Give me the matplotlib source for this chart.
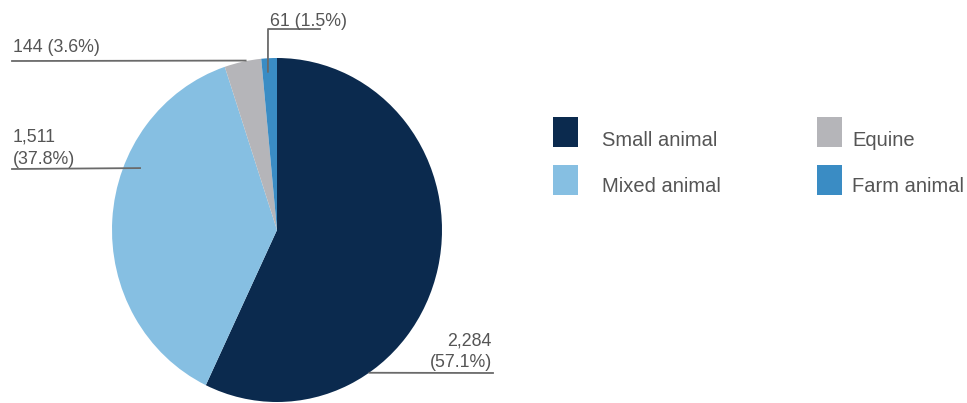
import matplotlib.pyplot as plt
from matplotlib.patches import Rectangle

categories = ["Small animal", "Mixed animal", "Equine", "Farm animal"]
counts = [2284, 1511, 144, 61]
shares = [57.1, 37.8, 3.6, 1.5]
colors = ["#0b2a4e", "#86bfe2", "#b5b5b9", "#3a8cc4"]

W, H = 967, 403
TEXT = "#555555"
LINE = "#6a6a6a"
FONT = ["Liberation Sans", "DejaVu Sans"]


def px(x, y):
    # pixel position measured from the top-left corner -> figure fraction
    return x / W, 1 - y / H


fig = plt.figure(figsize=(W / 100, H / 100), dpi=100)
ax = fig.add_axes([112 / W, 1 / H, 330 / W, 344 / H])
wedges, _ = ax.pie(counts, colors=colors, startangle=90, counterclock=False,
                   wedgeprops=dict(linewidth=0))
ax.set_aspect("auto")
ax.set_xlim(-1, 1)
ax.set_ylim(-1, 1)


def anchor(x, y):
    # data point on the pie -> figure fraction
    d = ax.transData.transform((x, y))
    return fig.transFigure.inverted().transform(d)


def leader(points):
    xs, ys = zip(*points)
    fig.add_artist(plt.Line2D(xs, ys, color=LINE, lw=1.3,
                              transform=fig.transFigure))


def label(x, y, s, ha="left"):
    fig.text(*px(x, y), s, ha=ha, va="baseline", fontsize=12.8,
             color=TEXT, family=FONT)


# Small animal
leader([anchor(0.56, -0.83), px(493, 373)])
label(492, 345, f"{counts[0]:,}", ha="right")
label(492, 367, f"({shares[0]:.1f}%)", ha="right")
# Mixed animal
leader([px(12, 169), anchor(-0.83, 0.36)])
label(13, 141, f"{counts[1]:,}")
label(13, 164, f"({shares[1]:.1f}%)")
# Equine
leader([px(12, 61), anchor(-0.19, 0.985)])
label(13, 52, f"{counts[2]:,} ({shares[2]:.1f}%)")
# Farm animal
leader([px(320, 29), px(268, 29), anchor(-0.055, 0.92)])
label(270, 26, f"{counts[3]:,} ({shares[3]:.1f}%)")

# legend, two columns: swatch x, text x / swatch top, text baseline
swatch_x = [553, 817]
text_x = [602, 852]
swatch_y = [117, 165]
text_y = [146, 192]
for i, name in enumerate(categories):
    c, r = i // 2, i % 2
    x0, y0 = px(swatch_x[c], swatch_y[r] + 30)
    fig.add_artist(Rectangle((x0, y0), 25 / W, 30 / H, color=colors[i],
                             transform=fig.transFigure, lw=0))
    fig.text(*px(text_x[c], text_y[r]), name, ha="left", va="baseline",
             fontsize=14.5, color=TEXT, family=FONT)

fig.savefig("out.png", dpi=100)
